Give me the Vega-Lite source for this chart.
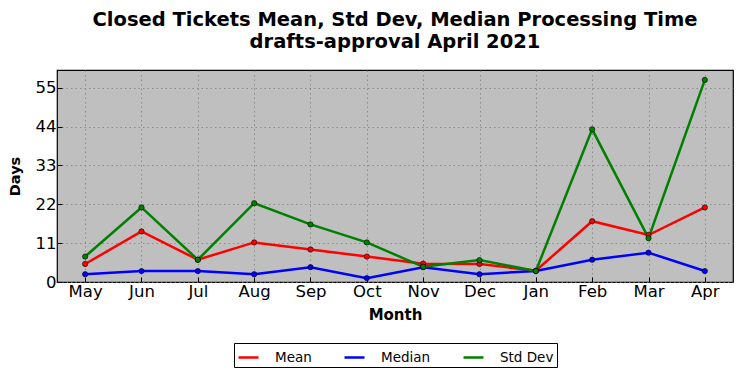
{
  "$schema": "https://vega.github.io/schema/vega-lite/v6.json",
  "width": 676,
  "height": 212,
  "autosize": {"type": "none"},
  "padding": {"left": 57, "top": 70, "right": 9, "bottom": 96},
  "background": "white",
  "title": {
    "text": ["Closed Tickets Mean, Std Dev, Median Processing Time", "drafts-approval April 2021"],
    "font": "DejaVu Sans",
    "fontSize": 19.5,
    "fontWeight": "bold",
    "color": "black",
    "anchor": "middle",
    "offset": 18,
    "lineHeight": 22
  },
  "config": {
    "font": "DejaVu Sans",
    "view": {"fill": "#bfbfbf", "stroke": "black", "strokeWidth": 1.2}
  },
  "data": {
    "values": [
      {"month": "May", "series": "Mean", "days": 5.1},
      {"month": "Jun", "series": "Mean", "days": 14.3},
      {"month": "Jul", "series": "Mean", "days": 6.3},
      {"month": "Aug", "series": "Mean", "days": 11.2},
      {"month": "Sep", "series": "Mean", "days": 9.2},
      {"month": "Oct", "series": "Mean", "days": 7.2},
      {"month": "Nov", "series": "Mean", "days": 5.2},
      {"month": "Dec", "series": "Mean", "days": 5.1},
      {"month": "Jan", "series": "Mean", "days": 3.2},
      {"month": "Feb", "series": "Mean", "days": 17.2},
      {"month": "Mar", "series": "Mean", "days": 13.3},
      {"month": "Apr", "series": "Mean", "days": 21.1},
      {"month": "May", "series": "Median", "days": 2.2},
      {"month": "Jun", "series": "Median", "days": 3.1},
      {"month": "Jul", "series": "Median", "days": 3.1},
      {"month": "Aug", "series": "Median", "days": 2.2},
      {"month": "Sep", "series": "Median", "days": 4.2},
      {"month": "Oct", "series": "Median", "days": 1.1},
      {"month": "Nov", "series": "Median", "days": 4.2},
      {"month": "Dec", "series": "Median", "days": 2.2},
      {"month": "Jan", "series": "Median", "days": 3.1},
      {"month": "Feb", "series": "Median", "days": 6.3},
      {"month": "Mar", "series": "Median", "days": 8.3},
      {"month": "Apr", "series": "Median", "days": 3.1},
      {"month": "May", "series": "Std Dev", "days": 7.2},
      {"month": "Jun", "series": "Std Dev", "days": 21.1},
      {"month": "Jul", "series": "Std Dev", "days": 6.3},
      {"month": "Aug", "series": "Std Dev", "days": 22.3},
      {"month": "Sep", "series": "Std Dev", "days": 16.3},
      {"month": "Oct", "series": "Std Dev", "days": 11.2},
      {"month": "Nov", "series": "Std Dev", "days": 4.3},
      {"month": "Dec", "series": "Std Dev", "days": 6.2},
      {"month": "Jan", "series": "Std Dev", "days": 3.1},
      {"month": "Feb", "series": "Std Dev", "days": 43.2},
      {"month": "Mar", "series": "Std Dev", "days": 12.4},
      {"month": "Apr", "series": "Std Dev", "days": 57.2}
    ]
  },
  "mark": {
    "type": "line",
    "strokeWidth": 2.5,
    "point": {"filled": true, "size": 28, "stroke": "black", "strokeWidth": 0.6, "opacity": 1}
  },
  "encoding": {
    "x": {
      "field": "month",
      "type": "ordinal",
      "sort": ["May", "Jun", "Jul", "Aug", "Sep", "Oct", "Nov", "Dec", "Jan", "Feb", "Mar", "Apr"],
      "scale": {"type": "point", "padding": 0.5},
      "axis": {
        "title": "Month",
        "titleFont": "DejaVu Sans",
        "titleFontSize": 15,
        "titleFontWeight": "bold",
        "titleColor": "black",
        "titlePadding": 8,
        "labelAngle": 0,
        "labelFontSize": 16.5,
        "labelColor": "black",
        "labelPadding": 6,
        "tickSize": -5,
        "tickColor": "black",
        "domain": false,
        "grid": true,
        "gridColor": "#7f7f7f",
        "gridDash": [1.5, 3],
        "gridWidth": 0.8
      }
    },
    "y": {
      "field": "days",
      "type": "quantitative",
      "scale": {"domain": [0, 60], "nice": false},
      "axis": {
        "title": "Days",
        "titleFont": "DejaVu Sans",
        "titleFontSize": 14.5,
        "titleFontWeight": "bold",
        "titleColor": "black",
        "titlePadding": 13,
        "values": [0, 11, 22, 33, 44, 55],
        "labelFontSize": 16.5,
        "labelColor": "black",
        "labelPadding": 6,
        "tickSize": -5,
        "tickColor": "black",
        "domain": false,
        "grid": true,
        "gridColor": "#7f7f7f",
        "gridDash": [1.5, 3],
        "gridWidth": 0.8
      }
    },
    "color": {
      "field": "series",
      "type": "nominal",
      "scale": {"domain": ["Mean", "Median", "Std Dev"], "range": ["#ff0000", "#0000ff", "#008000"]},
      "legend": {
        "title": null,
        "orient": "none",
        "legendX": 177,
        "legendY": 273,
        "direction": "horizontal",
        "columns": 3,
        "symbolType": "stroke",
        "symbolSize": 400,
        "symbolStrokeWidth": 2.5,
        "labelFontSize": 13.5,
        "labelColor": "black",
        "labelOffset": 15,
        "columnPadding": 27,
        "strokeColor": "black",
        "padding": 3,
        "fillColor": "white"
      }
    }
  }
}
